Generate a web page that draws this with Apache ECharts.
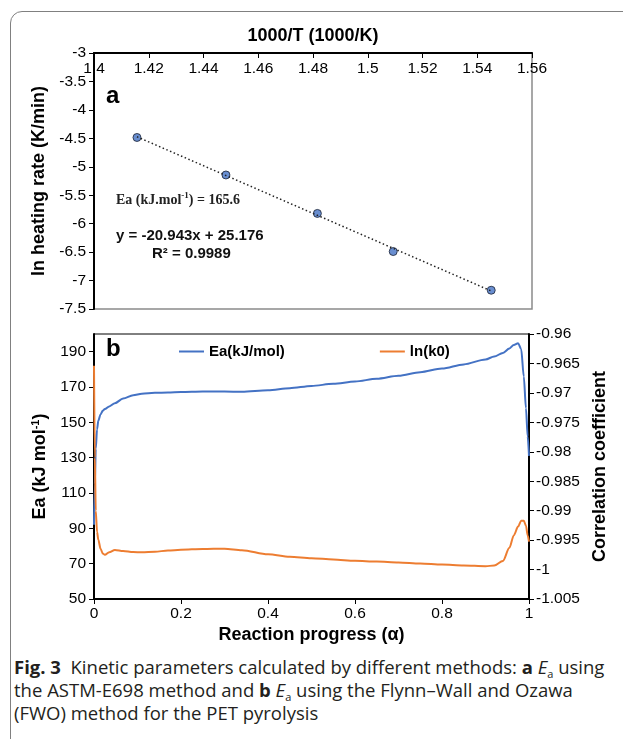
<!DOCTYPE html>
<html>
<head>
<meta charset="utf-8">
<script src="https://cdn.jsdelivr.net/npm/echarts@6/dist/echarts.min.js"></script>
<style>
  html, body { margin: 0; padding: 0; background: #fff; }
  #wrap { position: relative; width: 623px; height: 739px; overflow: hidden; }
  #frame { position: absolute; left: 10px; top: 11px; width: 700px; height: 800px;
           border: 1.5px solid #808080; border-radius: 12px; }
  #chart { position: absolute; left: 0; top: 0; width: 623px; height: 650px; }
  #caption { position: absolute; left: 14px; top: 655px; font-family: 'Open Sans', sans-serif;
             font-size: 18.5px; line-height: 23px; color: #231f20; white-space: nowrap; letter-spacing: 0px; }
  #caption .sub { font-size: 11px; position: relative; top: 4px; line-height: 0; }
</style>
</head>
<body>
<div id="wrap">
  <div id="frame"></div>
  <div id="chart"></div>
  <div id="caption">
    <b>Fig. 3</b>&nbsp; Kinetic parameters calculated by different methods: <b>a</b> <i>E</i><span class="sub">a</span> using<br>
    the ASTM-E698 method and <b>b</b> <i>E</i><span class="sub">a</span> using the Flynn–Wall and Ozawa<br>
    (FWO) method for the PET pyrolysis
  </div>
</div>
<script>
// panel a: ASTM-E698 points
const invT = [1.4157, 1.4482, 1.4816, 1.5093, 1.5451];
const lnRate = [-4.485, -5.144, -5.82, -6.49, -7.17];
const fitSlope = -20.943;
const fitIntercept = 25.176;

// panel b: FWO
const alpha = [0, 0.002, 0.004, 0.007, 0.01, 0.015, 0.02, 0.025, 0.035, 0.048, 0.067, 0.09, 0.11, 0.14, 0.17,
  0.2, 0.25, 0.3, 0.34, 0.4, 0.45, 0.5, 0.55, 0.6, 0.65, 0.7, 0.75, 0.8, 0.85, 0.9, 0.92, 0.94, 0.955,
  0.965, 0.975, 0.982, 0.988, 0.993, 0.997, 1.0];
const eaValues = [92, 115, 135, 146, 151, 154.5, 156.5, 157.5, 159, 160.8, 163.5, 165.3, 166.2, 166.7, 166.9,
  167.1, 167.4, 167.4, 167.3, 168.1, 169.3, 170.6, 171.8, 173.1, 174.7, 176.4, 178.4, 180.5, 182.8, 185.6, 187.2, 189.3, 191.8,
  193.8, 194.8, 191.5, 176, 158, 142, 131];
const lnK0Values = [182, 130, 100, 88, 83.5, 78.5, 75.8, 75, 76.5, 77.8, 77.2, 76.6, 76.4, 76.8, 77.4,
  77.9, 78.3, 78.5, 77.6, 75.3, 73.9, 73.1, 72.4, 71.6, 71.2, 70.7, 70.1, 69.5, 69.0, 68.6, 68.9, 71.5, 79,
  86, 91, 94.3, 94.3, 91.5, 86, 82.5];

const seriesNames = ['Ea(kJ/mol)', 'ln(k0)'];

const font = 'Liberation Sans';
const black = '#000';

const chart = echarts.init(document.getElementById('chart'));

const fitLine = [invT[0], invT[invT.length - 1]].map(x => [x, fitSlope * x + fitIntercept]);

const option = {
  animation: false,
  textStyle: { fontFamily: font, color: black },
  grid: [
    { left: 94, top: 53, width: 438, height: 256, show: true, borderColor: '#8a8a8a', borderWidth: 1.5 },
    { left: 94, top: 334, width: 435, height: 265, show: true, borderColor: black, borderWidth: 1 }
  ],
  legend: {
    data: seriesNames,
    left: 174, top: 339,
    icon: 'rect', itemWidth: 25, itemHeight: 2, itemGap: 95,
    textStyle: { fontFamily: font, fontSize: 15, fontWeight: 'bold', color: black }
  },
  xAxis: [
    {
      gridIndex: 0, type: 'value', position: 'top',
      min: 1.4, max: 1.56, interval: 0.02,
      name: '1000/T (1000/K)', nameLocation: 'middle', nameGap: 8,
      nameTextStyle: { fontFamily: font, fontSize: 18, fontWeight: 'bold', color: black },
      axisLine: { lineStyle: { color: black, width: 2 } },
      axisTick: { inside: true, length: 5, lineStyle: { color: black } },
      axisLabel: { inside: true, margin: 8, fontSize: 15.5, color: black, showMinLabel: true, showMaxLabel: true },
      splitLine: { show: false }
    },
    {
      gridIndex: 1, type: 'value', position: 'bottom',
      min: 0, max: 1, interval: 0.2,
      name: 'Reaction progress (α)', nameLocation: 'middle', nameGap: 27,
      nameTextStyle: { fontFamily: font, fontSize: 18, fontWeight: 'bold', color: black },
      axisLine: { lineStyle: { color: black, width: 2 } },
      axisTick: { length: 5, lineStyle: { color: black } },
      axisLabel: { margin: 7, fontSize: 15.5, color: black },
      splitLine: { show: false }
    }
  ],
  yAxis: [
    {
      gridIndex: 0, type: 'value',
      min: -7.5, max: -3, interval: 0.5,
      name: 'ln heating rate (K/min)', nameLocation: 'middle', nameGap: 42, nameRotate: 90,
      nameTextStyle: { fontFamily: font, fontSize: 18, fontWeight: 'bold', color: black },
      axisLine: { show: true, lineStyle: { color: black, width: 2 } },
      axisTick: { show: true, length: 5, lineStyle: { color: black } },
      axisLabel: { margin: 8, fontSize: 15.5, color: black },
      splitLine: { show: false }
    },
    {
      gridIndex: 1, type: 'value', position: 'left',
      min: 50, max: 200, interval: 20,
      name: '{n|Ea (kJ mol}{s|-1}{n|)}', nameLocation: 'middle', nameGap: 42, nameRotate: 90,
      nameTextStyle: {
        rich: {
          n: { fontFamily: font, fontSize: 18, fontWeight: 'bold', color: black, lineHeight: 20 },
          s: { fontFamily: font, fontSize: 11, fontWeight: 'bold', color: black, lineHeight: 12, verticalAlign: 'top' }
        }
      },
      axisLine: { show: true, lineStyle: { color: black, width: 2 } },
      axisTick: { show: true, length: 5, lineStyle: { color: black } },
      axisLabel: { margin: 8, fontSize: 15.5, color: black, showMaxLabel: false },
      splitLine: { show: false }
    },
    {
      gridIndex: 1, type: 'value', position: 'right',
      min: -1.005, max: -0.96, interval: 0.005,
      name: 'Correlation coefficient', nameLocation: 'middle', nameGap: 58, nameRotate: 90,
      nameTextStyle: { fontFamily: font, fontSize: 18, fontWeight: 'bold', color: black },
      axisLine: { show: true, lineStyle: { color: black, width: 2 } },
      axisTick: { show: true, length: 5, lineStyle: { color: black } },
      axisLabel: { margin: 7, fontSize: 15.5, color: black },
      splitLine: { show: false }
    }
  ],
  graphic: [
    { type: 'text', left: 106, top: 84, style: { text: 'a', font: 'bold 24px "Liberation Sans"', fill: black } },
    { type: 'text', left: 106, top: 337, style: { text: 'b', font: 'bold 24px "Liberation Sans"', fill: black } },
    {
      type: 'text', left: 116, top: 191,
      style: {
        text: '{n|Ea (kJ.mol}{s|-1}{n|) = 165.6}',
        rich: {
          n: { fontFamily: 'Liberation Serif', fontSize: 14, fontWeight: 'bold', fill: '#222', lineHeight: 18 },
          s: { fontFamily: 'Liberation Serif', fontSize: 9, fontWeight: 'bold', fill: '#222', lineHeight: 10, verticalAlign: 'top' }
        }
      }
    },
    { type: 'text', left: 116, top: 228, style: { text: 'y = -20.943x + 25.176', font: 'bold 15px "Liberation Sans"', fill: '#111' } },
    { type: 'text', left: 152, top: 246, style: { text: 'R² = 0.9989', font: 'bold 15px "Liberation Sans"', fill: '#111' } }
  ],
  series: [
    {
      type: 'line', xAxisIndex: 0, yAxisIndex: 0,
      data: fitLine, showSymbol: false, silent: true,
      lineStyle: { color: '#222', width: 1.5, type: [1.5, 2.5] }
    },
    {
      type: 'scatter', xAxisIndex: 0, yAxisIndex: 0,
      data: invT.map((x, i) => [x, lnRate[i]]),
      symbolSize: 8,
      itemStyle: { color: '#4472C4', borderColor: '#1a2233', borderWidth: 1 }
    },
    {
      name: seriesNames[0], type: 'line', xAxisIndex: 1, yAxisIndex: 1,
      data: alpha.map((a, i) => [a, eaValues[i]]),
      smooth: 0.3, smoothMonotone: 'x', showSymbol: false,
      lineStyle: { color: '#4472C4', width: 2 }, itemStyle: { color: '#4472C4' }
    },
    {
      name: seriesNames[1], type: 'line', xAxisIndex: 1, yAxisIndex: 1,
      data: alpha.map((a, i) => [a, lnK0Values[i]]),
      smooth: 0.3, smoothMonotone: 'x', showSymbol: false,
      lineStyle: { color: '#ED7D31', width: 2 }, itemStyle: { color: '#ED7D31' }
    }
  ]
};

chart.setOption(option);
</script>
</body>
</html>
